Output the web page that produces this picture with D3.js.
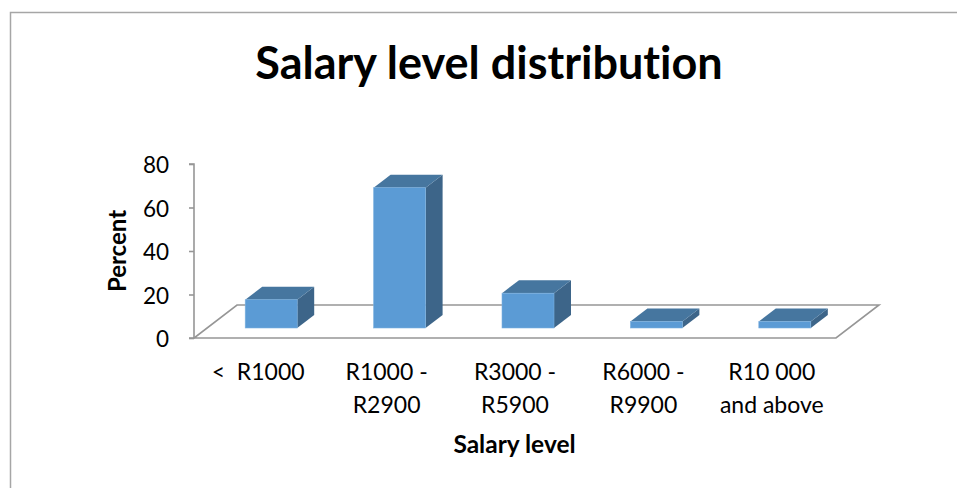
<!DOCTYPE html>
<html><head><meta charset="utf-8">
<script src="https://cdn.jsdelivr.net/npm/d3@7"></script>
<style>html,body{margin:0;padding:0;background:#fff}svg{display:block}text{font-family:Lato,"Open Sans",sans-serif;fill:#000;white-space:pre;font-variant-ligatures:none}</style>
</head><body><svg id="c" width="957" height="488"></svg>
<script>
const categories = ["<  R1000", "R1000 -|R2900", "R3000 -|R5900", "R6000 -|R9900", "R10 000|and above"];
const percent = [13, 64.5, 16, 3, 3];
const yTicks = [0, 20, 40, 60, 80];
const titleText = "Salary level distribution";
const xTitle = "Salary level";
const yTitle = "Percent";

const svg = d3.select("#c");
const x0 = 194, x1 = 836, yBase = 338, yTop = 164;
const floorDx = 43, floorDy = -33, barDx = 17, barDy = -13, lift = 10, barW = 52;

const y = d3.scaleLinear().domain([0, 80]).range([yBase, yTop]);
const x = d3.scaleBand().domain(categories).range([x0, x1]);

// outer frame
svg.append("path").attr("d", "M10.5,488V12.5H957").attr("fill", "none").attr("stroke", "#a6a6a6").attr("stroke-width", 1.5);

// floor
svg.append("path")
  .attr("d", `M${x0},${yBase}L${x1},${yBase}L${x1 + floorDx},${yBase + floorDy}L${x0 + floorDx},${yBase + floorDy}Z`)
  .attr("fill", "none").attr("stroke", "#969696").attr("stroke-width", 1.6);

// value axis
const axis = d3.axisLeft(y).tickValues(yTicks).tickSize(5).tickPadding(20);
const ga = svg.append("g").attr("transform", `translate(${x0},0)`).call(axis);
ga.selectAll("path,line").attr("stroke", "#969696").attr("stroke-width", 1.6);
ga.select(".domain").attr("d", `M-5,${yTop}H0V${yBase}H-5`);
ga.selectAll("text").attr("font-size", 22.5).attr("dy", "0.38em").style("font-family", "Lato,sans-serif");

// bars
const bars = svg.selectAll("g.bar").data(categories.map((c, i) => ({c, v: percent[i]}))).join("g").attr("class", "bar");
bars.each(function(d) {
  const g = d3.select(this);
  const l = x(d.c) + x.bandwidth() / 2 + 13 - barW / 2, r = l + barW;
  const b = yBase - lift, t = b - (yBase - y(d.v));
  g.append("path").attr("fill", "#3d6589")
    .attr("d", `M${r},${t}L${r + barDx},${t + barDy}V${b + barDy}L${r},${b}Z`);
  g.append("path").attr("fill", "#46769f")
    .attr("d", `M${l},${t}L${l + barDx},${t + barDy}H${r + barDx}L${r},${t}Z`);
  g.append("rect").attr("x", l).attr("y", t).attr("width", barW).attr("height", b - t)
    .attr("fill", "#5b9bd5").attr("stroke", "#7db1e0").attr("stroke-width", 0.6);
});

// category labels
const labels = svg.selectAll("text.cat").data(categories).join("text").attr("class", "cat")
  .attr("text-anchor", "middle").attr("font-size", 23);
labels.each(function(d) {
  const t = d3.select(this), cx = x(d) + x.bandwidth() / 2;
  d.split("|").forEach((s, i) => t.append("tspan").attr("x", cx).attr("y", 380 + i * 33).text(s));
});

// titles
svg.append("text").attr("x", 489).attr("y", 79).attr("text-anchor", "middle")
  .attr("font-size", 45).attr("font-weight", 700).text(titleText);
svg.append("text").attr("x", 514.5).attr("y", 453).attr("text-anchor", "middle")
  .attr("font-size", 24.5).attr("font-weight", 700).text(xTitle);
svg.append("text").attr("transform", "translate(126,251) rotate(-90)").attr("text-anchor", "middle")
  .attr("font-size", 24).attr("font-weight", 700).text(yTitle);
</script></body></html>
